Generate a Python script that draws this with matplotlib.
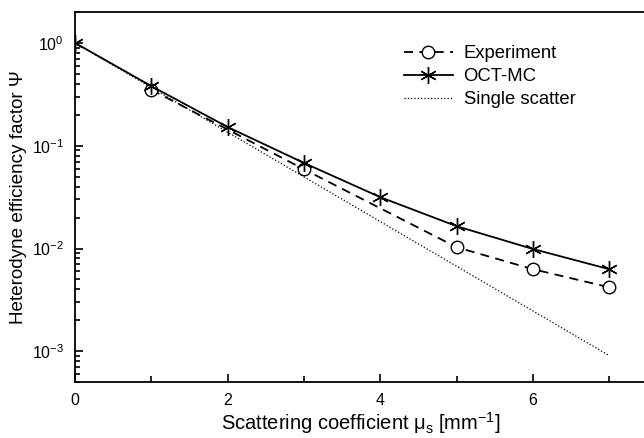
import numpy as np
import matplotlib
matplotlib.use('Agg')
import matplotlib.pyplot as plt

plt.rcParams['font.family'] = ['Liberation Sans', 'DejaVu Sans']
plt.rcParams['mathtext.fontset'] = 'custom'
plt.rcParams['mathtext.rm'] = 'Liberation Sans'
plt.rcParams['mathtext.it'] = 'Liberation Sans'
plt.rcParams['mathtext.sf'] = 'Liberation Sans'

# data
mu_mc = [0, 1, 2, 3, 4, 5, 6, 7]
psi_mc = [1.0, 0.38, 0.152, 0.068, 0.0316, 0.0165, 0.0099, 0.0063]

mu_exp = [1, 3, 5, 6, 7]
psi_exp = [0.35, 0.059, 0.0103, 0.0063, 0.0042]

mu_single = [0, 7]
psi_single = [1.0, 9.1e-4]

fig = plt.figure(figsize=(6.44, 4.38), dpi=100)
ax = fig.add_axes([0.1165, 0.1272, 0.8886, 0.8455])

ax.plot(mu_exp, psi_exp, 'k--', marker='o', mfc='white', mec='k', ms=9,
        lw=1.3, dashes=(5, 3.5), label='Experiment', zorder=3)
ax.plot(mu_mc, psi_mc, 'k-', marker=(6, 2, 0), ms=12, mew=1.0, lw=1.3,
        label='OCT-MC', zorder=4)
ax.plot(mu_single, psi_single, 'k:', lw=0.9, label='Single scatter')

ax.set_yscale('log')
ax.set_xlim(0, 7.5)
ax.set_ylim(5e-4, 2)
ax.set_xticks([0, 2, 4, 6])
ax.set_xticks([1, 3, 5, 7], minor=True)
ax.tick_params(which='both', direction='in', labelsize=11.5, width=1.2)
ax.tick_params(which='major', length=6, pad=8)
ax.tick_params(which='minor', length=4)
ax.tick_params(axis='y', which='minor', length=3.5)
ax.spines['right'].set_visible(False)
for s in ['left', 'bottom', 'top']:
    ax.spines[s].set_linewidth(1.3)

ax.set_xlabel(r'Scattering coefficient $\mu_\mathrm{s}$ [mm$^{-1}$]', fontsize=14.5, labelpad=1)
ax.set_ylabel('Heterodyne efficiency factor \u03a8', fontsize=13.6, labelpad=3)

ax.legend(loc='upper left', bbox_to_anchor=(0.545, 0.955), frameon=False,
          fontsize=13.3, handlelength=2.7, handletextpad=0.55, labelspacing=0.33)

fig.savefig('out.png', dpi=100)
